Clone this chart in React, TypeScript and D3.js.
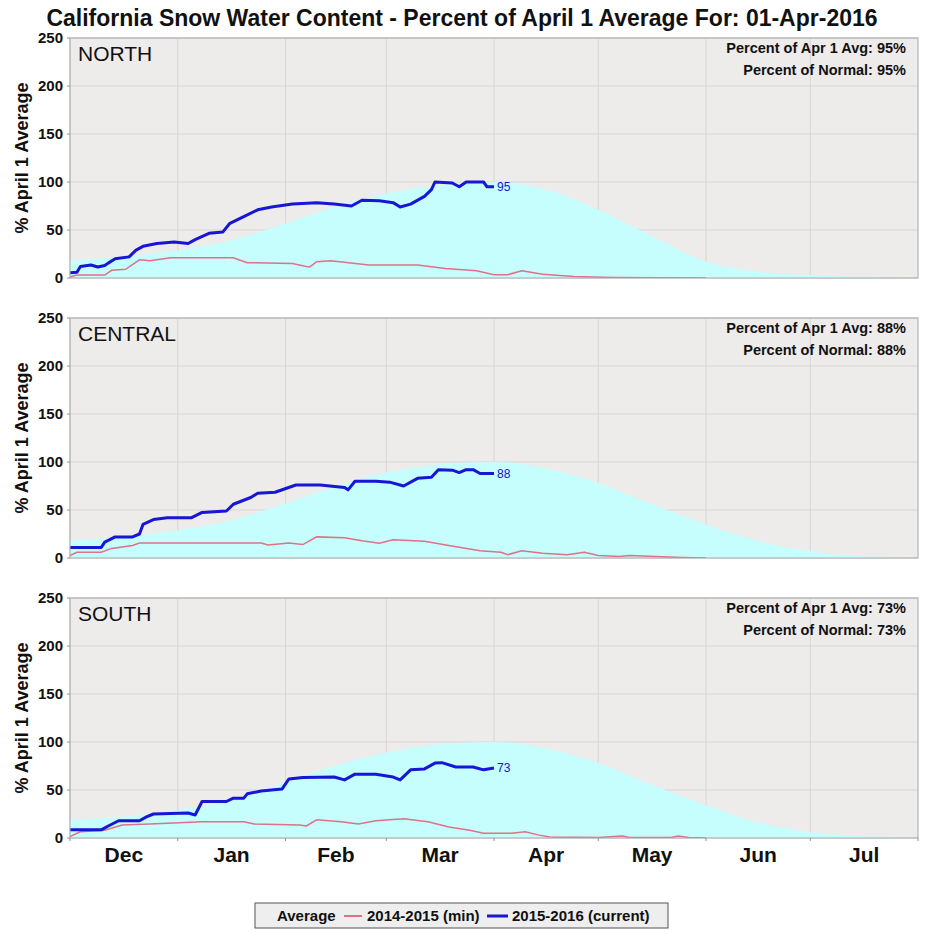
import React from "react";
import * as d3 from "d3";

// chart text
const title = "California Snow Water Content - Percent of April 1 Average For: 01-Apr-2016";
const regions = ["NORTH", "CENTRAL", "SOUTH"];
const pctApr1 = [95, 88, 73];
const pctNormal = [95, 88, 73];
const yTicks = [0, 50, 100, 150, 200, 250];
const legendLabels = ["Average", "2014-2015 (min)", "2015-2016 (current)"];

type Pt = [string, number];

// percent of April 1 average
const northAverage: Pt[] = [
  ["2015-12-01", 18], ["2015-12-15", 22], ["2016-01-01", 29], ["2016-01-15", 38],
  ["2016-02-01", 57], ["2016-02-15", 74], ["2016-03-01", 88], ["2016-03-15", 96],
  ["2016-04-01", 100], ["2016-04-15", 93], ["2016-05-01", 71], ["2016-05-15", 46],
  ["2016-06-01", 17], ["2016-06-15", 7], ["2016-07-01", 3], ["2016-07-15", 1], ["2016-08-01", 0],
];
const centralAverage: Pt[] = [
  ["2015-12-01", 18], ["2015-12-15", 22], ["2016-01-01", 29], ["2016-01-15", 38],
  ["2016-02-01", 57], ["2016-02-15", 74], ["2016-03-01", 89], ["2016-03-15", 97],
  ["2016-04-01", 100], ["2016-04-15", 94], ["2016-05-01", 78], ["2016-05-15", 58],
  ["2016-06-01", 35], ["2016-06-15", 19], ["2016-07-01", 7], ["2016-07-15", 2], ["2016-08-01", 0],
];
const southAverage: Pt[] = [
  ["2015-12-01", 19], ["2015-12-15", 22], ["2016-01-01", 29], ["2016-01-15", 38],
  ["2016-02-01", 58], ["2016-02-15", 75], ["2016-03-01", 89], ["2016-03-15", 97],
  ["2016-04-01", 100], ["2016-04-15", 94], ["2016-05-01", 78], ["2016-05-15", 57],
  ["2016-06-01", 34], ["2016-06-15", 17], ["2016-07-01", 6], ["2016-07-15", 2], ["2016-08-01", 0],
];

// 2014-2015 (min)
const northMin: Pt[] = [
  ["2015-12-01", 1], ["2015-12-03", 3], ["2015-12-11", 3], ["2015-12-13", 8], ["2015-12-17", 9],
  ["2015-12-21", 19], ["2015-12-24", 18], ["2015-12-30", 21], ["2016-01-17", 21], ["2016-01-21", 16],
  ["2016-02-03", 15], ["2016-02-07", 12], ["2016-02-08", 11.5], ["2016-02-10", 17], ["2016-02-14", 18],
  ["2016-02-25", 13.5], ["2016-03-10", 13.5], ["2016-03-18", 10], ["2016-03-27", 7.5], ["2016-04-01", 3.5],
  ["2016-04-05", 3.5], ["2016-04-09", 7.5], ["2016-04-15", 4], ["2016-04-24", 1.5], ["2016-05-05", 0.5],
  ["2016-06-01", 0],
];
const centralMin: Pt[] = [
  ["2015-12-01", 2.5], ["2015-12-03", 6], ["2015-12-10", 6], ["2015-12-13", 10], ["2015-12-19", 13],
  ["2015-12-21", 15.5], ["2016-01-25", 15.5], ["2016-01-27", 13.5], ["2016-02-02", 15.5], ["2016-02-06", 14],
  ["2016-02-10", 22], ["2016-02-18", 21], ["2016-02-23", 18], ["2016-02-28", 15.5], ["2016-03-03", 19],
  ["2016-03-12", 17.5], ["2016-03-19", 13], ["2016-03-28", 7.5], ["2016-04-03", 6], ["2016-04-05", 3.5],
  ["2016-04-09", 7.5], ["2016-04-15", 5], ["2016-04-22", 3.5], ["2016-04-27", 6], ["2016-05-01", 2.5],
  ["2016-05-07", 1.5], ["2016-05-10", 2.5], ["2016-05-25", 0.5], ["2016-06-01", 0],
];
const southMin: Pt[] = [
  ["2015-12-01", 1.5], ["2015-12-04", 6.5], ["2015-12-11", 8], ["2015-12-16", 13.5], ["2015-12-24", 14.5],
  ["2016-01-08", 17], ["2016-01-20", 17], ["2016-01-23", 14.5], ["2016-02-05", 13.5], ["2016-02-07", 12.5],
  ["2016-02-10", 19], ["2016-02-17", 17], ["2016-02-22", 14.5], ["2016-02-27", 18], ["2016-03-06", 20],
  ["2016-03-13", 17], ["2016-03-19", 11.5], ["2016-03-25", 8], ["2016-03-29", 5], ["2016-04-06", 5],
  ["2016-04-10", 6.5], ["2016-04-14", 3], ["2016-04-17", 1], ["2016-05-01", 0.5], ["2016-05-08", 2],
  ["2016-05-10", 0.5], ["2016-05-22", 0.5], ["2016-05-24", 2], ["2016-05-27", 0.5], ["2016-06-01", 0],
];

// 2015-2016 (current)
const northCurrent: Pt[] = [
  ["2015-12-01", 5.5], ["2015-12-03", 6], ["2015-12-04", 12], ["2015-12-07", 13.5], ["2015-12-09", 11.5],
  ["2015-12-11", 13], ["2015-12-12", 15.5], ["2015-12-14", 20], ["2015-12-18", 22], ["2015-12-20", 29],
  ["2015-12-22", 33], ["2015-12-26", 36], ["2015-12-31", 37.5], ["2016-01-04", 36], ["2016-01-06", 40],
  ["2016-01-10", 46.5], ["2016-01-14", 48], ["2016-01-16", 57], ["2016-01-20", 64], ["2016-01-24", 71],
  ["2016-01-28", 74], ["2016-02-03", 77], ["2016-02-10", 78.5], ["2016-02-15", 77], ["2016-02-20", 75],
  ["2016-02-23", 81], ["2016-02-28", 80.5], ["2016-03-03", 78.5], ["2016-03-05", 74], ["2016-03-08", 77],
  ["2016-03-12", 85], ["2016-03-14", 92], ["2016-03-15", 100], ["2016-03-20", 99], ["2016-03-22", 95],
  ["2016-03-24", 100], ["2016-03-29", 100], ["2016-03-30", 95], ["2016-04-01", 95],
];
const centralCurrent: Pt[] = [
  ["2015-12-01", 11], ["2015-12-10", 11], ["2015-12-11", 16.5], ["2015-12-14", 22], ["2015-12-19", 22],
  ["2015-12-21", 25], ["2015-12-22", 35], ["2015-12-25", 40], ["2015-12-29", 42], ["2016-01-05", 42],
  ["2016-01-08", 47.5], ["2016-01-15", 49], ["2016-01-17", 56], ["2016-01-22", 63], ["2016-01-24", 67.5],
  ["2016-01-29", 68.5], ["2016-02-04", 76], ["2016-02-11", 76], ["2016-02-18", 73.5], ["2016-02-19", 71],
  ["2016-02-21", 80], ["2016-02-27", 80], ["2016-03-02", 79], ["2016-03-06", 75], ["2016-03-10", 83],
  ["2016-03-14", 84], ["2016-03-16", 92], ["2016-03-20", 91.5], ["2016-03-22", 89], ["2016-03-24", 92],
  ["2016-03-26", 92], ["2016-03-28", 88], ["2016-04-01", 88],
];
const southCurrent: Pt[] = [
  ["2015-12-01", 8.5], ["2015-12-10", 8.5], ["2015-12-12", 12.5], ["2015-12-15", 18], ["2015-12-21", 18],
  ["2015-12-23", 22], ["2015-12-25", 25], ["2016-01-04", 26], ["2016-01-06", 24], ["2016-01-08", 38],
  ["2016-01-15", 38], ["2016-01-17", 41.5], ["2016-01-20", 41.5], ["2016-01-21", 46], ["2016-01-25", 49],
  ["2016-01-31", 51], ["2016-02-02", 61.5], ["2016-02-06", 63], ["2016-02-15", 63.5], ["2016-02-18", 60.5],
  ["2016-02-21", 66.5], ["2016-02-27", 66.5], ["2016-03-03", 63.5], ["2016-03-05", 60.5], ["2016-03-08", 71],
  ["2016-03-12", 72], ["2016-03-15", 78], ["2016-03-17", 78.5], ["2016-03-21", 74], ["2016-03-26", 74],
  ["2016-03-29", 71], ["2016-04-01", 73],
];

const averages = [northAverage, centralAverage, southAverage];
const mins = [northMin, centralMin, southMin];
const currents = [northCurrent, centralCurrent, southCurrent];

const W = 926, H = 934;
const left = 70, right = 918;
const panelTops = [38, 318, 598];
const panelH = 240;
const font = "'Liberation Sans', Arial, sans-serif";
const cyan = "#c6fdfd";
const pink = "#de7286";
const blue = "#1616d4";

const parse = d3.timeParse("%Y-%m-%d");
const x = d3.scaleTime()
  .domain([parse("2015-12-01")!, parse("2016-08-01")!])
  .range([left, right]);
const months = d3.timeMonth.range(x.domain()[0], x.domain()[1]);

function Panel({ i }: { i: number }) {
  const top = panelTops[i];
  const y = d3.scaleLinear().domain([0, 250]).range([top + panelH, top]);
  const area = d3.area<Pt>()
    .x(d => x(parse(d[0])!))
    .y0(y(0))
    .y1(d => y(d[1]))
    .curve(d3.curveMonotoneX);
  const line = d3.line<Pt>()
    .x(d => x(parse(d[0])!))
    .y(d => y(d[1]));
  const cur = currents[i];
  const last = cur[cur.length - 1];
  const clipId = "clip" + i;
  return (
    <g>
      <defs>
        <clipPath id={clipId}>
          <rect x={left} y={top} width={right - left} height={panelH} />
        </clipPath>
      </defs>
      <rect x={left} y={top} width={right - left} height={panelH} fill="#eeebeb" />
      {yTicks.map(t => (
        <line key={"gy" + t} x1={left} x2={right} y1={y(t)} y2={y(t)} stroke="#d8d6d6" strokeWidth={1} />
      ))}
      {months.map(m => (
        <line key={"gx" + m.getTime()} x1={x(m)} x2={x(m)} y1={top} y2={top + panelH} stroke="#d8d6d6" strokeWidth={1} />
      ))}
      <g clipPath={`url(#${clipId})`}>
        <path d={area(averages[i])!} fill={cyan} />
        <path d={line(mins[i])!} fill="none" stroke={pink} strokeWidth={1.5} />
        <path d={line(cur)!} fill="none" stroke={blue} strokeWidth={3} strokeLinejoin="round" />
      </g>
      <text x={x(parse(last[0])!) + 3} y={y(last[1]) + 4} fontFamily={font} fontSize={12} fill={blue}>
        {last[1]}
      </text>
      <rect x={left} y={top} width={right - left} height={panelH} fill="none" stroke="#a8a8a8" strokeWidth={1} />
      {yTicks.map(t => (
        <g key={"ty" + t}>
          <line x1={left - 3} x2={left} y1={y(t)} y2={y(t)} stroke="#909090" />
          <text x={63} y={y(t) + 5} textAnchor="end" fontFamily={font} fontWeight="bold" fontSize={15} fill="#111">
            {t}
          </text>
        </g>
      ))}
      <text x={78} y={top + 23} fontFamily={font} fontSize={21} fill="#111">{regions[i]}</text>
      <text x={906} y={top + 15} textAnchor="end" fontFamily={font} fontWeight="bold" fontSize={14.5} fill="#111">
        {`Percent of Apr 1 Avg: ${pctApr1[i]}%`}
      </text>
      <text x={906} y={top + 37} textAnchor="end" fontFamily={font} fontWeight="bold" fontSize={14.5} fill="#111">
        {`Percent of Normal: ${pctNormal[i]}%`}
      </text>
      <text
        transform={`translate(28,${top + panelH / 2}) rotate(-90)`}
        textAnchor="middle" fontFamily={font} fontWeight="bold" fontSize={18} fill="#111"
      >
        % April 1 Average
      </text>
    </g>
  );
}

export default function App() {
  const bottom = panelTops[2] + panelH;
  const fmt = d3.timeFormat("%b");
  return (
    <div style={{ position: "absolute", left: 0, top: 0 }}>
      <svg width={W} height={H} style={{ display: "block", background: "#fff" }}>
        <text x={462} y={26} textAnchor="middle" fontFamily={font} fontWeight="bold" fontSize={23} fill="#111">
          {title}
        </text>
        {regions.map((_, i) => <Panel key={i} i={i} />)}
        {months.map(m => {
          const next = d3.timeMonth.offset(m, 1);
          const mid = new Date((m.getTime() + next.getTime()) / 2);
          return (
            <g key={"mx" + m.getTime()}>
              <line x1={x(m)} x2={x(m)} y1={bottom} y2={bottom + 3} stroke="#909090" />
              <text x={x(mid)} y={862} textAnchor="middle" fontFamily={font} fontWeight="bold" fontSize={21} fill="#111">
                {fmt(m)}
              </text>
            </g>
          );
        })}
        <line x1={right} x2={right} y1={bottom} y2={bottom + 3} stroke="#909090" />
        <g>
          <rect x={255} y={903} width={413} height={25} fill="#eeeeee" stroke="#555" strokeWidth={1} />
          <text x={277} y={921} fontFamily={font} fontWeight="bold" fontSize={15} fill="#111">{legendLabels[0]}</text>
          <line x1={344} x2={362} y1={916} y2={916} stroke={pink} strokeWidth={2} />
          <text x={367} y={921} fontFamily={font} fontWeight="bold" fontSize={15} fill="#111">{legendLabels[1]}</text>
          <line x1={487} x2={508} y1={916} y2={916} stroke={blue} strokeWidth={3} />
          <text x={512} y={921} fontFamily={font} fontWeight="bold" fontSize={15} fill="#111">{legendLabels[2]}</text>
        </g>
      </svg>
    </div>
  );
}
